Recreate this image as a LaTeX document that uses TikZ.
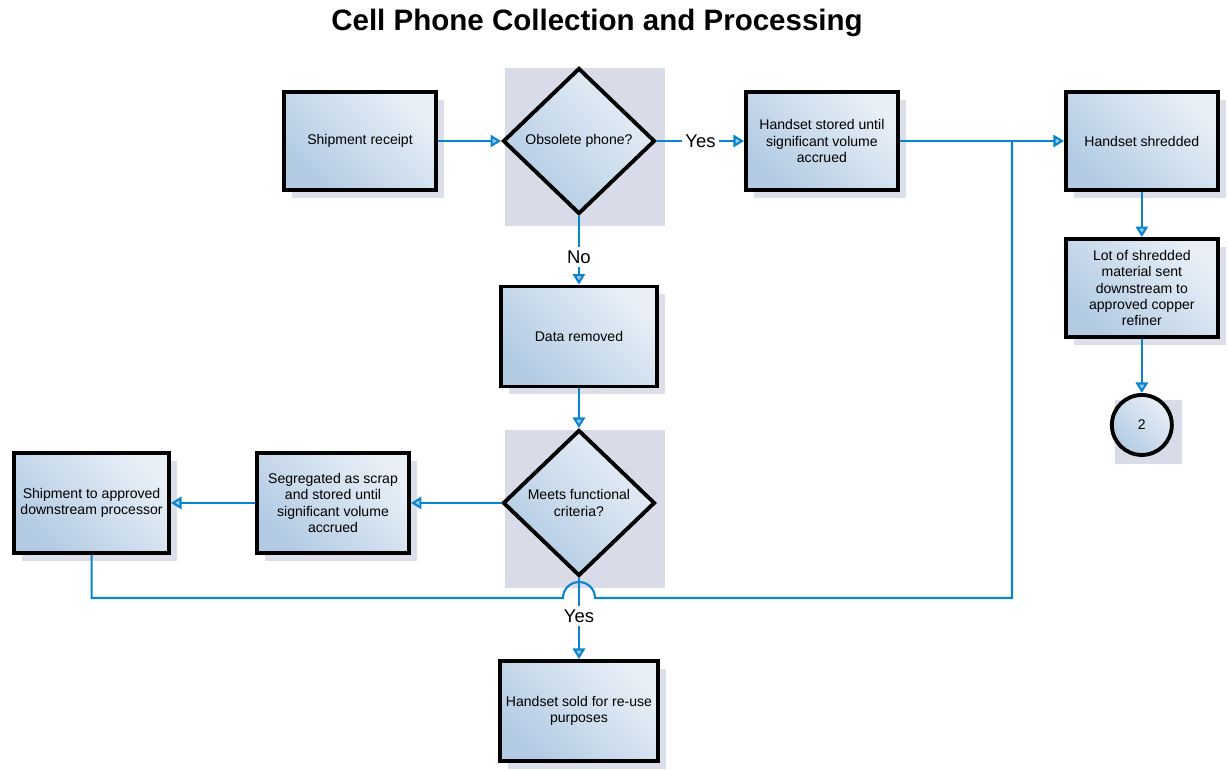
\documentclass[tikz,border=0pt]{standalone}
\usepackage{fontspec}
\setmainfont{Liberation Sans}
\usepackage{tikz}
\usetikzlibrary{arrows.meta, positioning, shapes.geometric, shadows}
\definecolor{lineblue}{HTML}{0A84CE}
\definecolor{tipfill}{HTML}{9CCBEB}
\definecolor{boxdark}{HTML}{B2CBE3}
\definecolor{boxlight}{HTML}{E8EFF7}
\definecolor{panelgray}{HTML}{D9DBE9}
\definecolor{shadowgray}{HTML}{DCDEE9}
\tikzset{font=\fontsize{8}{9.2}\selectfont}
\tikzset{shaded/.style={left color=boxdark, right color=boxlight, shading angle=135}}
\tikzset{process/.style={rectangle, draw=black, line width=2.2pt, shaded,
  minimum width=3.04cm, minimum height=1.96cm, align=center,
  drop shadow={shadow xshift=0.16cm, shadow yshift=-0.16cm, fill=shadowgray, opacity=1}}}
\tikzset{decision/.style={diamond, draw=black, line width=2.2pt, shaded,
  minimum width=3.04cm, minimum height=2.92cm, inner sep=0pt, align=center}}
\tikzset{offpage/.style={circle, draw=black, line width=2.2pt, shaded,
  minimum size=1.2cm, inner sep=0pt}}
\tikzset{answer/.style={fill=white, inner sep=2pt, font=\fontsize{10.5}{12}\selectfont}}
\tikzset{link/.style={draw=lineblue, line width=1.2pt}}

\begin{document}
\begin{tikzpicture}[x=0.02cm, y=-0.02cm, on grid]
  \useasboundingbox (0,0) rectangle (1228,769);
  % Panels behind the decisions
  \fill[panelgray] (505,68) rectangle (665,226);
  \fill[panelgray] (505,430) rectangle (665,588);
  \fill[panelgray] (1115,400) rectangle (1182,464);
  %Nodes
  \node[font=\fontsize{16.8}{20}\selectfont\bfseries] (title) at (597,23) {Cell Phone Collection and Processing};
  \node[process] (receipt) at (360,141) {Shipment receipt};
  \node[decision] (obsolete) [right=4.38cm of receipt] {Obsolete phone?};
  \node[process] (stored) [right=4.86cm of obsolete] {Handset stored until\\significant volume\\accrued};
  \node[process] (shredded) [right=6.4cm of stored] {Handset shredded};
  \node[process] (lot) [below=2.94cm of shredded] {Lot of shredded\\material sent\\downstream to\\approved copper\\refiner};
  \node[offpage] (two) [below=2.74cm of lot] {2};
  \node[process, minimum width=3.12cm, minimum height=2.0cm] (removed) [below=3.91cm of obsolete] {Data removed};
  \node[decision] (meets) [below=3.33cm of removed] {Meets functional\\criteria?};
  \node[process, minimum height=2.0cm] (scrap) [left=4.92cm of meets] {Segregated as scrap\\and stored until\\significant volume\\accrued};
  \node[process, minimum width=3.1cm, minimum height=2.0cm] (approved) [left=4.83cm of scrap] {Shipment to approved\\downstream processor};
  \node[process, minimum width=3.1cm, minimum height=2.0cm] (sold) [below=4.16cm of meets] {Handset sold for re-use\\purposes};
  % Return line with a hop
  \coordinate (hopin) at (563,598);
  \coordinate (corner) at (1012,598);
  \coordinate (merge) at (1012,141);
  \draw[link] (approved.south) |- (hopin) arc (180:360:16) -- (corner) -- (merge);
  % Edges
  \begin{scope}[every edge/.style={link, -{Triangle[open, fill=tipfill, length=6pt, width=7pt]}}]
    \draw (receipt) edge (obsolete);
    \draw (obsolete) edge node[answer]{Yes} (stored);
    \draw (stored) edge (shredded);
    \draw (shredded) edge (lot);
    \draw (lot) edge (two);
    \draw (obsolete) edge node[answer, pos=0.6]{No} (removed);
    \draw (removed) edge (meets);
    \draw (meets) edge (scrap);
    \draw (scrap) edge (approved);
    \draw (meets) edge node[answer, pos=0.47]{Yes} (sold);
  \end{scope}
\end{tikzpicture}
\end{document}
